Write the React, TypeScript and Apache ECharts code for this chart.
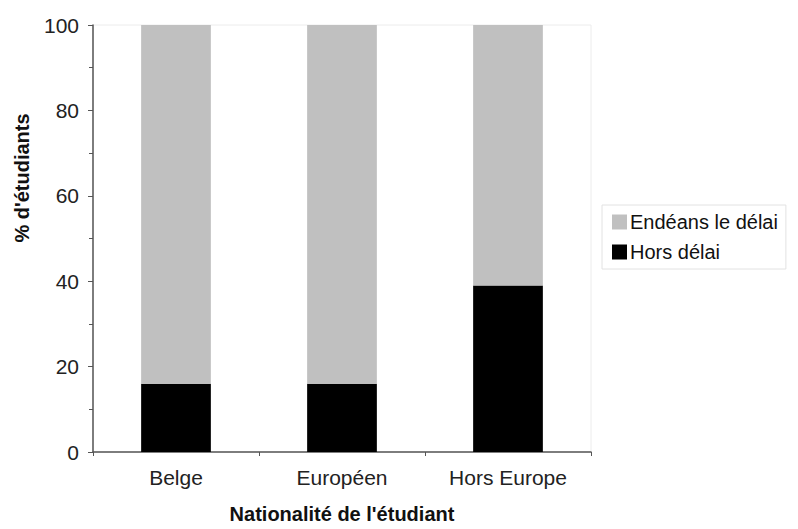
import React, { useEffect, useRef } from "react";
import * as echarts from "echarts";

const categories = ["Belge", "Européen", "Hors Europe"];
const horsDelai = [16, 16, 39];
const endeans = [84, 84, 61];
const seriesNames = ["Endéans le délai", "Hors délai"];
const yAxisTitle = "% d'étudiants";
const xAxisTitle = "Nationalité de l'étudiant";

export default function App() {
  const ref = useRef<HTMLDivElement>(null);
  useEffect(() => {
    const chart = echarts.init(ref.current!, null, { renderer: "svg" });
    const font = "Liberation Sans, Arial, sans-serif";
    chart.setOption({
      animation: false,
      backgroundColor: "#ffffff",
      grid: {
        left: 93,
        right: 207,
        top: 25,
        bottom: 77,
        containLabel: false,
        show: true,
        borderColor: "#ececec",
        borderWidth: 1,
      },
      legend: {
        data: seriesNames,
        orient: "vertical",
        left: 602,
        top: 205,
        padding: [7, 8, 7, 10],
        itemGap: 10,
        itemWidth: 15,
        itemHeight: 15,
        borderColor: "#e2e2e2",
        borderWidth: 1,
        icon: "rect",
        selectedMode: false,
        textStyle: { fontFamily: font, fontSize: 20, color: "#111", padding: [0, 0, 0, -2] },
      },
      graphic: [
        {
          type: "text",
          x: 22,
          y: 178,
          rotation: Math.PI / 2,
          style: {
            text: yAxisTitle,
            font: "bold 20px Liberation Sans, Arial, sans-serif",
            fill: "#111",
            align: "center",
            verticalAlign: "middle",
          },
        },
      ],
      xAxis: {
        type: "category",
        data: categories,
        boundaryGap: true,
        name: xAxisTitle,
        nameLocation: "middle",
        nameGap: 52,
        nameTextStyle: { fontFamily: font, fontSize: 20, fontWeight: "bold", color: "#111" },
        axisLine: { lineStyle: { color: "#555", width: 1.5 } },
        axisTick: { show: true, alignWithLabel: false, length: 4, lineStyle: { color: "#555" } },
        axisLabel: { fontFamily: font, fontSize: 21, color: "#222", margin: 15 },
      },
      yAxis: {
        type: "value",
        min: 0,
        max: 100,
        interval: 20,
        axisLine: { show: true, lineStyle: { color: "#555", width: 1.5 } },
        axisTick: { show: true, length: 5, lineStyle: { color: "#555" } },
        minorTick: { show: true, splitNumber: 2, length: 4, lineStyle: { color: "#555" } },
        splitLine: { show: false },
        axisLabel: { fontFamily: font, fontSize: 21, color: "#222", margin: 14 },
      },
      series: [
        {
          name: "Hors délai",
          type: "bar",
          stack: "total",
          data: horsDelai,
          barWidth: "42%",
          itemStyle: { color: "#000000" },
        },
        {
          name: "Endéans le délai",
          type: "bar",
          stack: "total",
          data: endeans,
          barWidth: "42%",
          itemStyle: { color: "#c0c0c0" },
        },
      ],
    });
    return () => chart.dispose();
  }, []);
  return (
    <div
      ref={ref}
      style={{ position: "fixed", left: 0, top: 0, width: 798, height: 529 }}
    />
  );
}
